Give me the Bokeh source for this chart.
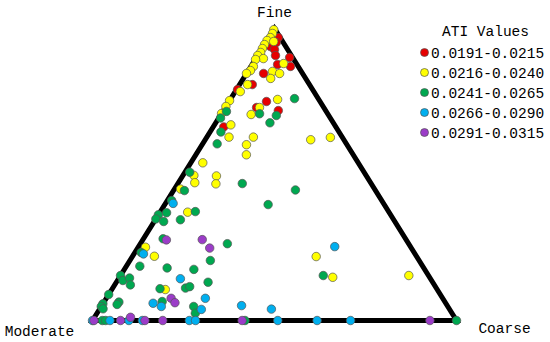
from bokeh.plotting import figure
from bokeh.models import Range1d
from bokeh.embed import file_html
from bokeh.resources import INLINE
from bokeh.core.properties import value
import numpy as np

# ---- data: (fine %, coarse %) ; moderate = 100 - fine - coarse ----
red_fine = [96.9, 95.2, 93.8, 92.8, 90.75, 90.1, 87.7, 87.0, 84.6, 80.8, 79.1, 75.0, 72.95, 71.9, 66.3]
red_coarse = [2.6, 2.9, 2.0, 3.6, 4.9, 9.1, 7.0, 10.9, 4.7, 3.5, 0.3, 10.3, 8.6, 15.1, 2.9]

yellow_fine = [99.6, 98.3, 96.9, 95.9, 95.55, 94.5, 93.15, 91.8, 90.75, 89.7, 89.4, 88.0, 87.0, 85.6,
               84.6, 85.3, 84.6, 82.9, 80.8, 78.4, 75.3, 75.7, 72.95, 73.3, 70.9, 70.55, 67.0, 62.8,
               62.8, 60.2, 56.75, 61.9, 62.7, 54.0, 49.7, 47.2, 49.5, 46.8, 45.0, 37.1, 25.1, 22.0,
               21.9, 14.8, 15.4, 10.6]
yellow_coarse = [0, 0.3, 0.4, 0, 2.0, 0, 0.1, 0.3, 0, 2.1, 0.1, 8.5, 0.7, 0.6,
                 0, 6.8, 9.1, 7.5, 2.2, 1.4, 0, 13.0, 9.4, 0, 0, 8.3, 4.5, 6.1,
                 12.8, 12.2, 13.9, 29.0, 34.0, 3.3, 3.0, 4.5, 9.3, 10.5, 1.7, 7.6, 2.0, 6.0,
                 50.5, 58.6, 79.2, 14.7]

green_fine = [76.0, 71.6, 69.35, 70.8, 70.2, 67.7, 64.55, 60.5, 50.8, 46.9, 44.7, 44.5, 39.7, 41.1,
              37.3, 36.2, 36.9, 34.8, 33.9, 34.5, 28.0, 26.3, 23.3, 20.55, 18.6, 18.0, 17.5, 15.4,
              15.4, 13.7, 14.55, 12.2, 13.1, 10.9, 11.1, 11.6, 8.9, 5.7, 4.8, 4.0, 6.3, 5.5,
              6.5, 4.8, 2.5, 0, 0, 0, 0]
green_coarse = [17.5, 1.0, 0.5, 10.5, 15.4, 14.9, 3.0, 4.0, 1.3, 17.7, 33.4, 3.0, 28.4, 1.2,
                9.6, 0, 1.9, 0, 2.6, 6.9, 5.4, 23.9, 1.7, 22.1, 3.7, 11.5, 19.1, 55.7,
                0, 1.5, 2.9, 4.3, 25.2, 13.1, 20.0, 20.9, 0, 0, 0, 0.9, 4.1, 4.0,
                15.9, 25.4, 27.0, 2.7, 3.6, 41.9, 100]

blue_fine = [40.1, 22.8, 25.3, 14.3, 5.9, 4.8, 7.6, 3.8, 5.1, 3.9,
             0, 0, 0, 0, 0, 0, 0, 0, 0]
blue_coarse = [2.1, 2.6, 53.9, 17.0, 13.7, 16.5, 27.2, 28.0, 38.4, 47.2,
               0, 4.8, 10.0, 13.7, 26.6, 28.3, 50.9, 61.7, 70.9]

purple_fine = [27.6, 27.7, 24.8, 7.6, 6.1, 1.1, 0, 0, 0, 0, 0, 0]
purple_coarse = [6.5, 16.3, 19.8, 17.8, 19.6, 9.9, 0.4, 7.7, 14.4, 19.3, 41.1, 92.7]

class_labels = ["0.0191-0.0215", "0.0216-0.0240", "0.0241-0.0265", "0.0266-0.0290", "0.0291-0.0315"]
class_colors = ["#E60000", "#FFFF00", "#00A850", "#00AFEF", "#9B3CC8"]
legend_title = "ATI Values"
vertex_labels = ["Fine", "Moderate", "Coarse"]

groups = [(red_fine, red_coarse), (yellow_fine, yellow_coarse), (green_fine, green_coarse),
          (blue_fine, blue_coarse), (purple_fine, purple_coarse)]

# ---- layout (page pixels -> data space) ----
W, H = 550, 342
X0, X1, YB, YT = 92.0, 456.0, 320.0, 28.0   # triangle vertices on the page
def ux(px):
    return (px - X0) / (X1 - X0)
def vy(py):
    return (YB - py) / (YB - YT)

FONT = value("Liberation Mono")
FS = "14.5px"

p = figure(width=W, height=H, output_backend="svg", toolbar_location=None,
           x_range=Range1d(ux(0), ux(W)), y_range=Range1d(vy(H), vy(0)),
           x_axis_type=None, y_axis_type=None, min_border=0)
p.outline_line_color = None
p.background_fill_color = "white"
p.border_fill_color = "white"

def to_xy(fine, coarse):
    f = np.asarray(fine, dtype=float) / 100.0
    c = np.asarray(coarse, dtype=float) / 100.0
    return c + f / 2.0, f

# triangle frame
p.patch(x=[0, 1, 0.5], y=[0, 0, 1], fill_alpha=0, line_color="black", line_width=5,
        line_join="miter")

for (fine, coarse), col in zip(groups, class_colors):
    x, y = to_xy(fine, coarse)
    p.scatter(x=x, y=y, size=8.5, fill_color=col, line_color="#555555", line_width=0.7)

# vertex labels
p.text(x=[ux(274)], y=[vy(12)], text=[vertex_labels[0]], text_font=FONT, text_font_size=FS,
       text_align="center", text_baseline="middle", text_color="black")
p.text(x=[ux(39)], y=[vy(331)], text=[vertex_labels[1]], text_font=FONT, text_font_size=FS,
       text_align="center", text_baseline="middle", text_color="black")
p.text(x=[ux(504)], y=[vy(328)], text=[vertex_labels[2]], text_font=FONT, text_font_size=FS,
       text_align="center", text_baseline="middle", text_color="black")

# legend (drawn by hand)
p.text(x=[ux(485)], y=[vy(31)], text=[legend_title], text_font=FONT, text_font_size=FS,
       text_align="center", text_baseline="middle", text_color="black")
rows_y = [52 + 20 * i for i in range(len(class_labels))]
p.scatter(x=[ux(424)] * len(class_labels), y=[vy(r) for r in rows_y], size=8,
          fill_color=class_colors, line_color="#555555", line_width=0.7)
p.text(x=[ux(430.5)] * len(class_labels), y=[vy(r) for r in rows_y], text=class_labels,
       text_font=FONT, text_font_size=FS, text_align="left", text_baseline="middle",
       text_color="black")

open("out.html", "w").write(file_html(p, INLINE))
